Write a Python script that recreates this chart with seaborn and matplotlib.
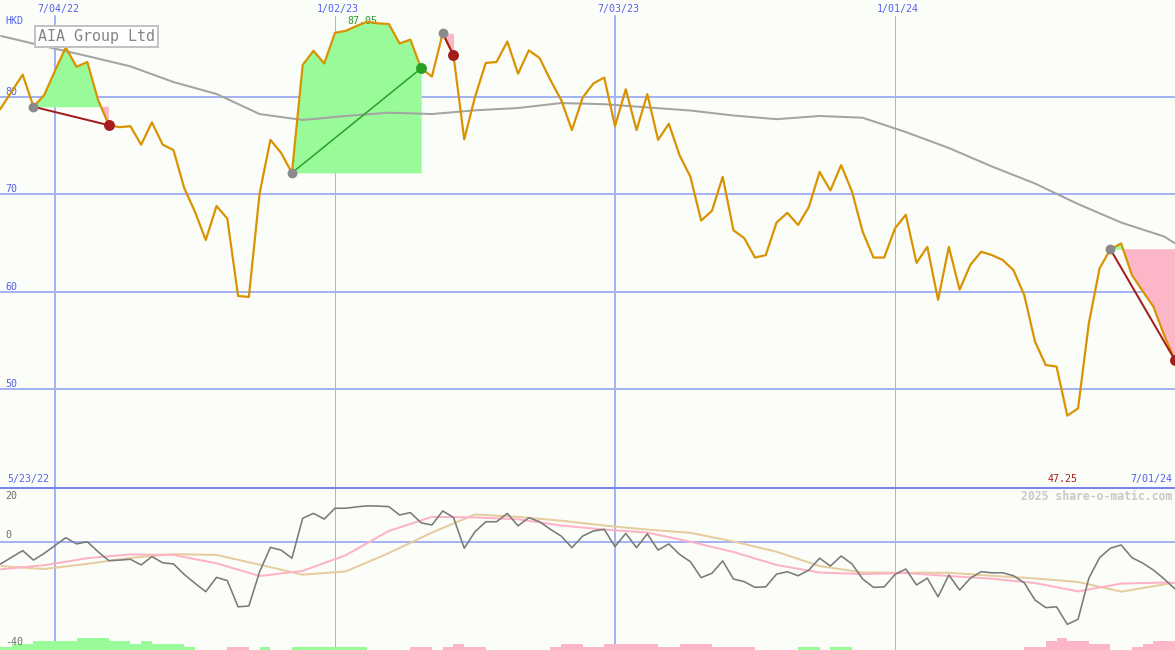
import numpy as np
import pandas as pd
import matplotlib
matplotlib.use("Agg")
import matplotlib.pyplot as plt
import matplotlib.transforms as mtransforms
import matplotlib.dates as mdates
import seaborn as sns

# ---------------- data ----------------
start_date = "2022-05-23"
n_weeks = 111
price = [77.6, 78.9, 80.6, 82.3, 79.0, 80.2, 82.7, 85.1, 83.1, 83.6,
         79.7, 77.1, 76.9, 77.0, 75.1, 77.4, 75.1, 74.55, 70.65, 68.2,
         65.3, 68.8, 67.5, 59.55, 59.45, 70.1, 75.6, 74.25, 72.2, 83.3,
         84.75, 83.45, 86.6, 86.8, 87.3, 87.74, 87.57, 87.5, 85.5, 85.9,
         82.95, 82.1, 86.55, 84.3, 75.65, 80.0, 83.5, 83.6, 85.7, 82.4,
         84.8, 84.0, 81.75, 79.7, 76.6, 79.95, 81.4, 82.0, 77.0, 80.8,
         76.6, 80.3, 75.6, 77.25, 74.0, 71.8, 67.3, 68.3, 71.8, 66.3,
         65.5, 63.5, 63.75, 67.1, 68.1, 66.85, 68.7, 72.3, 70.4, 73.0,
         70.3, 66.15, 63.5, 63.5, 66.5, 67.9, 62.95, 64.6, 59.15, 64.6,
         60.2, 62.75, 64.1, 63.75, 63.25, 62.2, 59.65, 54.85, 52.45, 52.3,
         47.25, 48.0, 56.75, 62.4, 64.35, 64.95, 61.7, 60.05, 58.45, 55.5,
         52.95]

osc = [-9.5, -8.0, -5.6, -3.2, -6.7, -4.2, -1.3, 1.6, -0.7, 0.1,
       -3.6, -6.9, -6.7, -6.4, -8.5, -5.4, -7.7, -8.1, -12.0, -15.3,
       -18.4, -13.1, -14.3, -24.0, -23.7, -11.0, -2.0, -3.0, -6.0, 8.8,
       10.6, 8.5, 12.5, 12.5, 13.0, 13.4, 13.3, 13.1, 10.0, 10.9,
       7.1, 6.3, 11.5, 9.1, -2.3, 3.8, 7.5, 7.5, 10.6, 6.0,
       9.0, 7.5, 4.7, 2.2, -2.1, 2.2, 4.1, 4.7, -1.7, 3.2,
       -2.1, 3.0, -3.0, -0.7, -4.6, -7.3, -13.2, -11.6, -7.0, -13.7,
       -14.7, -16.8, -16.6, -11.9, -11.0, -12.5, -10.4, -6.0, -8.9, -5.2,
       -8.1, -13.7, -16.8, -16.6, -12.0, -10.0, -15.9, -13.4, -20.3, -12.2,
       -17.8, -13.4, -11.0, -11.4, -11.4, -12.5, -15.1, -21.5, -24.3, -24.0,
       -30.5, -28.6, -13.4, -5.8, -2.3, -1.1, -5.8, -7.8, -10.4, -13.7,
       -17.4]

# smoother series, read every 4 weeks (week indices)
smooth_weeks = [1, 5, 9, 13, 17, 21, 25, 29, 33, 37, 41, 45, 49, 53, 57,
                61, 65, 69, 73, 77, 81, 85, 89, 93, 97, 101, 105, 109, 110]
price_ma = [86.27, 85.22, 84.21, 83.15, 81.54, 80.31, 78.25, 77.64, 78.05, 78.39,
            78.25, 78.63, 78.87, 79.38, 79.26, 78.93, 78.61, 78.1, 77.72, 78.05,
            77.87, 76.4, 74.76, 72.86, 71.11, 69.0, 67.1, 65.66, 64.96]
osc_pink = [-10.1, -8.6, -6.0, -4.6, -4.8, -7.9, -12.6, -10.7, -4.9, 4.1,
            9.3, 9.1, 8.4, 6.1, 4.6, 3.5, 0.1, -3.7, -8.5, -11.3,
            -11.9, -11.5, -12.6, -13.6, -15.2, -18.3, -15.4, -15.0, -15.1]
osc_tan = [-8.9, -10.0, -8.1, -5.9, -4.5, -4.8, -8.4, -12.1, -10.9, -4.1,
           3.5, 10.2, 9.3, 7.9, 6.1, 4.6, 3.4, 0.2, -3.6, -8.9,
           -11.3, -11.4, -11.4, -12.5, -13.5, -14.8, -18.4, -15.7, -15.1]

# bottom histogram levels (positive = green, negative = pink)
bar_levels = [1, 1, 2, 2, 3, 3, 3, 3, 4, 4,
              4, 3, 3, 2, 3, 2, 2, 2, 1, 0,
              0, 0, -1, -1, 0, 1, 0, 0, 1, 1,
              1, 1, 1, 1, 1, 0, 0, 0, 0, -1,
              -1, 0, -1, -2, -1, -1, 0, 0, 0, 0,
              0, 0, -1, -2, -2, -1, -1, -2, -2, -2,
              -2, -2, -1, -1, -2, -2, -2, -1, -1, -1,
              -1, 0, 0, 0, 0, 1, 1, 0, 1, 1,
              0, 0, 0, 0, 0, 0, 0, 0, 0, 0,
              0, 0, 0, 0, 0, 0, -1, -1, -3, -4,
              -3, -3, -2, -2, 0, 0, -1, -2, -3, -3,
              0]

trade_entry = [4, 28, 42, 104]
trade_exit = [11, 40, 43, 110]

price_ticks = [50, 60, 70, 80]
grid_dates = ["2022-07-04", "2023-01-02", "2023-07-03", "2024-01-01"]
grid_px = [2, 1, 2, 1]
osc_labels = [20, 0, -40]
title = "AIA Group Ltd"
currency = "HKD"
high_label = "87.05"
low_label = "47.25"
watermark = "2025 share-o-matic.com"

# ---------------- style ----------------
bg = "#fbfdf9"
grid_c = "#a6b3f2"
sep_c = "#7585ec"
blue_txt = "#5561ee"
price_c = "#d99200"
ma_c = "#a3a3a3"
green_fill = "#98fa98"
pink_fill = "#fbb6c8"
loss_c = "#a41c1c"
win_c = "#24a024"
PX = 0.72  # points per pixel at dpi 100

sns.set_theme(style="white")
plt.rcParams["font.family"] = ["DejaVu Sans Mono", "DejaVu Sans"]

dates = pd.date_range(start_date, periods=n_weeks, freq="7D")
dnum = mdates.date2num(dates)
df = pd.DataFrame({"date": dates, "price": price, "osc": osc, "bar": bar_levels})
sm = pd.DataFrame({"date": dates[smooth_weeks], "ma": price_ma,
                   "pink": osc_pink, "tan": osc_tan})

fig = plt.figure(figsize=(11.75, 6.5), dpi=100)
fig.patch.set_facecolor(bg)
ax = fig.add_axes([0, 163 / 650, 1, 487 / 650])
axo = fig.add_axes([0, 0, 1, 162 / 650], sharex=ax)
for a in (ax, axo):
    a.set_facecolor(bg)
    for s in a.spines.values():
        s.set_visible(False)

# ---- price panel ----
for v in price_ticks:
    ax.axhline(v, color=grid_c, lw=2 * PX, zorder=0.5)
    ax.text(5.5 / 1175, v, str(v), color=blue_txt, fontsize=7.2, ha="left", va="bottom",
            transform=mtransforms.blended_transform_factory(ax.transAxes, ax.transData))

top_trans = mtransforms.offset_copy(
    mtransforms.blended_transform_factory(ax.transData, ax.transAxes), fig, x=3, y=0, units="dots")
for gd, w in zip(grid_dates, grid_px):
    d = pd.Timestamp(gd)
    ax.axvline(d, ymax=1 - 16 / 487, color=grid_c, lw=w * PX, zorder=0.5)
    axo.axvline(d, color=grid_c, lw=w * PX, zorder=0.5)
    ax.text(d, 1 - 8.7 / 487, f"{d.month}/{d.day:02d}/{d.strftime('%y')}", color=blue_txt,
            fontsize=7.2, ha="center", va="center", transform=top_trans)

# trades
for e, x_ in zip(trade_entry, trade_exit):
    lvl = price[e]
    xs = dnum[e:x_ + 1]
    ys = np.array(price[e:x_ + 1])
    ax.fill_between(xs, ys, lvl, where=ys >= lvl, interpolate=True, color=green_fill, lw=0, zorder=1)
    ax.fill_between(xs, ys, lvl, where=ys <= lvl, interpolate=True, color=pink_fill, lw=0, zorder=1)

sns.lineplot(data=sm, x="date", y="ma", ax=ax, color=ma_c, lw=2 * PX, zorder=2)
sns.lineplot(data=df, x="date", y="price", ax=ax, color=price_c, lw=2.2 * PX, zorder=3)

for e, x_ in zip(trade_entry, trade_exit):
    lvl = price[e]
    win = price[x_] > lvl
    col = win_c if win else loss_c
    sns.lineplot(x=[dates[e], dates[x_]], y=[lvl, price[x_]], ax=ax, color=col,
                 lw=(1.5 if win else 2.0) * PX, zorder=4)
    ax.scatter([dnum[e]], [lvl], s=50, color="#8a8a8a", lw=0, zorder=5)
    ax.scatter([dnum[x_]], [price[x_]], s=62, color=col, lw=0, zorder=5)

ax.set_ylim(39.92, 89.97)
ax.set_xlim(dates[0] + pd.Timedelta(days=6.25), dates[-1])

# labels
ax.text(5.7 / 1175, 1 - 21 / 487, currency, color=blue_txt, fontsize=7.2,
        ha="left", va="center", transform=ax.transAxes)
ax.text(38 / 1175, 1 - 36.5 / 487, title, color="#858585", fontsize=10.8, ha="left", va="center",
        transform=ax.transAxes, zorder=6,
        bbox=dict(boxstyle="square,pad=0.22", fc="white", ec="#c2c2c2", lw=2 * PX))

i_hi = int(np.argmax(price))
ax.annotate(high_label, xy=(dnum[i_hi], price[i_hi]), xytext=(-3.6, 0.7), textcoords="offset points",
            color="#2a962a", fontsize=7.2, ha="center", va="center", zorder=2.5)
i_lo = int(np.argmin(price))
bot_y = 1 - 479 / 487
ax.annotate(low_label, xy=(dnum[i_lo], bot_y), xycoords=("data", "axes fraction"),
            xytext=(-3.6, 0), textcoords="offset points",
            color=loss_c, fontsize=7.2, ha="center", va="center")
fmt = lambda d: f"{d.month}/{d.day:02d}/{d.strftime('%y')}"
ax.text(7.3 / 1175, bot_y, fmt(dates[0]), color=blue_txt, fontsize=7.2, ha="left", va="center",
        transform=ax.transAxes)
ax.text(1172 / 1175, bot_y, fmt(dates[-1]), color=blue_txt, fontsize=7.2, ha="right", va="center",
        transform=ax.transAxes)

# ---- oscillator panel ----
axo.set_ylim(-40, 20)
axo.axhline(0, color=grid_c, lw=2 * PX, zorder=0.5)
axo.spines["top"].set_visible(True)
axo.spines["top"].set_color(sep_c)
axo.spines["top"].set_linewidth(2 * PX)

bl = np.array(bar_levels)
axo.bar(dnum, np.abs(bl) * 1.08, bottom=-40, width=7, align="edge",
        color=[green_fill if b > 0 else pink_fill for b in bl], lw=0, zorder=1)

sns.lineplot(data=sm, x="date", y="tan", ax=axo, color="#e6cc9e", lw=2 * PX, zorder=2)
sns.lineplot(data=sm, x="date", y="pink", ax=axo, color="#fdb2c6", lw=2 * PX, zorder=2.1)
sns.lineplot(data=df, x="date", y="osc", ax=axo, color="#7a7a7a", lw=1.6 * PX, zorder=3)

blend_o = mtransforms.blended_transform_factory(axo.transAxes, axo.transData)
for v, dy in zip(osc_labels, [-8, 7, 8]):
    axo.text(5.7 / 1175, v, str(v), color="#6e6e6e", fontsize=7.2, ha="left", va="center",
             transform=mtransforms.offset_copy(blend_o, fig, x=0, y=dy, units="dots"), zorder=6)
axo.text(1172 / 1175, 1 - 8.5 / 162, watermark, color="#c9c9c9", fontsize=8.3, weight="bold",
         ha="right", va="center", transform=axo.transAxes)

for a in (ax, axo):
    a.set_xlabel("")
    a.set_ylabel("")
    a.tick_params(left=False, bottom=False, labelleft=False, labelbottom=False)
    a.grid(False)
    leg = a.get_legend()
    if leg:
        leg.remove()

fig.savefig("out.png", dpi=100, facecolor=bg)
